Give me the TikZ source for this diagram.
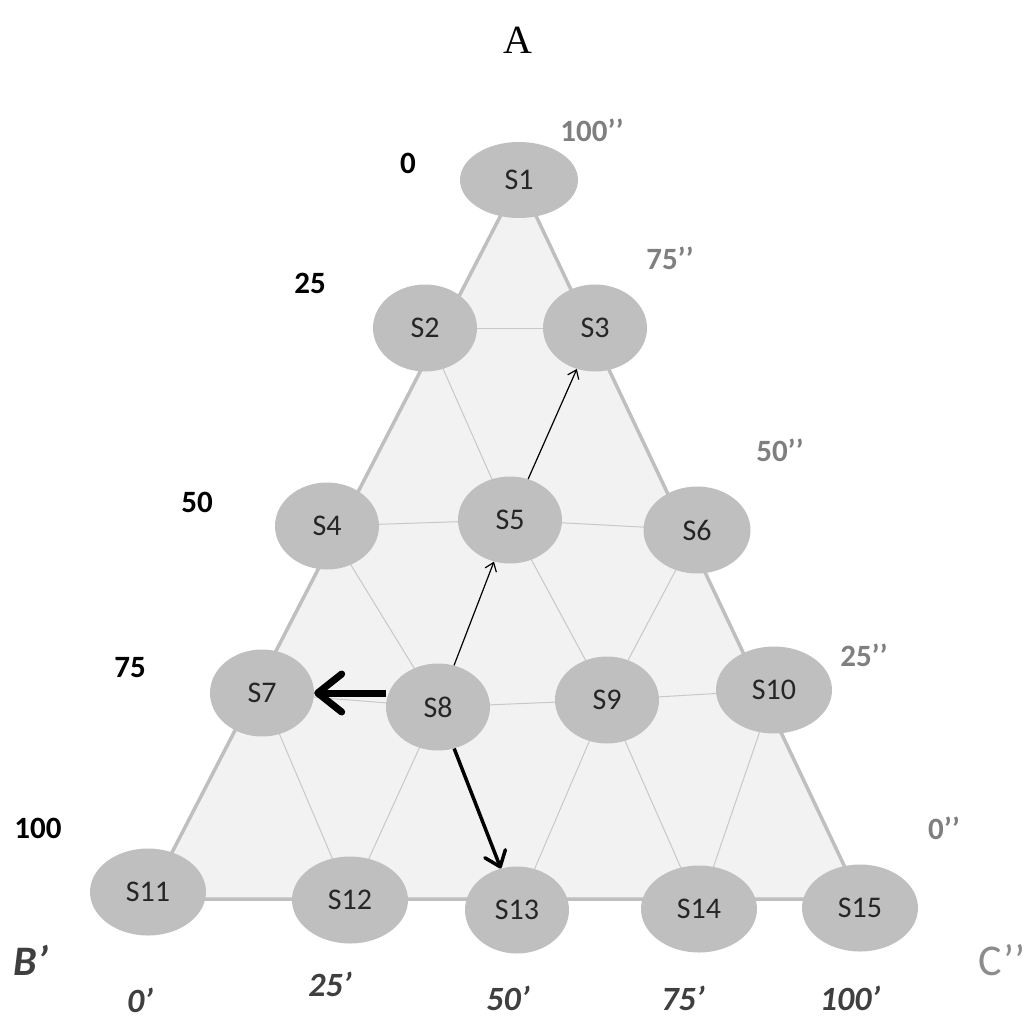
\documentclass[tikz,border=0pt]{standalone}
\usepackage{fontspec}
\setmainfont{Carlito}
\newfontfamily\serifA{Liberation Serif}
\usetikzlibrary{arrows.meta,shapes.geometric}
\definecolor{nodegray}{HTML}{BFBFBF}
\definecolor{trifill}{HTML}{F2F2F2}
\definecolor{edgegray}{HTML}{BFBFBF}
\definecolor{gridgray}{HTML}{C8C8C8}
\definecolor{labgray}{HTML}{7F7F7F}
\definecolor{darklab}{HTML}{3F3F3F}
\tikzset{
  state/.style={ellipse, fill=nodegray, inner sep=0pt, minimum width=104pt, minimum height=87pt, font=\fontsize{30}{33}\selectfont, text=black!85},
  widestate/.style={state, minimum width=116pt},
  gridline/.style={draw=gridgray, line width=1pt},
  outline/.style={draw=edgegray, line width=3.5pt, fill=trifill, line join=round},
  thinarrow/.style={draw=black, line width=1.2pt, -{Straight Barb[length=8pt,width=12pt]}},
  medarrow/.style={draw=black, line width=3.5pt, -{Straight Barb[length=14pt,width=22pt,line cap=round,line join=round]}},
  thickarrow/.style={draw=black, line width=7pt, -{Straight Barb[length=24pt,width=38pt,line cap=round,line join=round]}},
  leftlab/.style={font=\fontsize{31}{34}\selectfont\bfseries, text=black},
  rightlab/.style={font=\fontsize{31}{34}\selectfont\bfseries, text=labgray},
  botlab/.style={font=\fontsize{34}{38}\selectfont\bfseries\itshape, text=darklab}
}
\begin{document}
\begin{tikzpicture}[x=1pt,y=-1pt]
\useasboundingbox (0,0) rectangle (1026,1023);
% triangle corners
\coordinate (apex) at (519,180);
\coordinate (bl) at (148,899);
\coordinate (br) at (860,899);
\path[outline] (apex) -- (bl) -- (br) -- cycle;
% node positions
\coordinate (p1) at (519,180);
\coordinate (p2) at (425,328);
\coordinate (p3) at (595,328);
\coordinate (p4) at (327,526);
\coordinate (p5) at (510,520);
\coordinate (p6) at (697,530);
\coordinate (p7) at (262,693);
\coordinate (p8) at (438,707);
\coordinate (p9) at (607,700);
\coordinate (p10) at (774,690);
\coordinate (p11) at (148,892);
\coordinate (p12) at (350,900);
\coordinate (p13) at (517,910);
\coordinate (p14) at (699,909);
\coordinate (p15) at (860,908);
% grid lines
\draw[gridline] (p2) -- (p3);
\draw[gridline] (p4) -- (p5) -- (p6);
\draw[gridline] (p7) -- (p8) -- (p9) -- (p10);
\draw[gridline] (p2) -- (p5);
\draw[gridline] (p4) -- (p8);
\draw[gridline] (p5) -- (p9);
\draw[gridline] (p6) -- (p9);
\draw[gridline] (p7) -- (p12);
\draw[gridline] (p8) -- (p12);
\draw[gridline] (p9) -- (p13);
\draw[gridline] (p9) -- (p14);
\draw[gridline] (p10) -- (p14);
% nodes
\node[widestate, minimum width=118pt, minimum height=76pt] (S1) at (p1) {S1};
\node[state] (S2) at (p2) {S2};
\node[state] (S3) at (p3) {S3};
\node[state] (S4) at (p4) {S4};
\node[state] (S5) at (p5) {S5};
\node[state, minimum width=107pt] (S6) at (p6) {S6};
\node[state] (S7) at (p7) {S7};
\node[state] (S8) at (p8) {S8};
\node[state] (S9) at (p9) {S9};
\node[widestate] (S10) at (p10) {S10};
\node[widestate] (S11) at (p11) {S11};
\node[widestate] (S12) at (p12) {S12};
\node[state] (S13) at (p13) {S13};
\node[widestate] (S14) at (p14) {S14};
\node[widestate] (S15) at (p15) {S15};
% arrows
\draw[thinarrow] (S8) -- (S5);
\draw[thinarrow] (S5) -- (S3);
\draw[thickarrow] (S8.west |- S7.east) -- (S7.east);
\draw[medarrow] (S8) -- (S13);
% labels
\node[font=\serifA\fontsize{40}{44}\selectfont] (A) at (518,40) {A};
\node[leftlab] (l0) at (408,163) {0};
\node[leftlab] (l25) at (310,283) {25};
\node[leftlab] (l50) at (197,502) {50};
\node[leftlab] (l75) at (130,668) {75};
\node[leftlab] (l100) at (38,828) {100};
\node[rightlab] (r100) at (592,130) {100’’};
\node[rightlab] (r75) at (670,258) {75’’};
\node[rightlab] (r50) at (780,450) {50’’};
\node[rightlab] (r25) at (864,655) {25’’};
\node[rightlab] (r0) at (944,828) {0’’};
\node[font=\fontsize{42}{46}\selectfont\bfseries\itshape, text=darklab] (B) at (31,960) {B’};
\node[font=\fontsize{44}{48}\selectfont, text=labgray!90] (C) at (1002,960) {C’’};
\node[botlab] (b0) at (140,1000) {0’};
\node[botlab] (b25) at (330,984) {25’};
\node[botlab] (b50) at (508,998) {50’};
\node[botlab] (b75) at (683,998) {75’};
\node[botlab] (b100) at (850,998) {100’};
\end{tikzpicture}
\end{document}
